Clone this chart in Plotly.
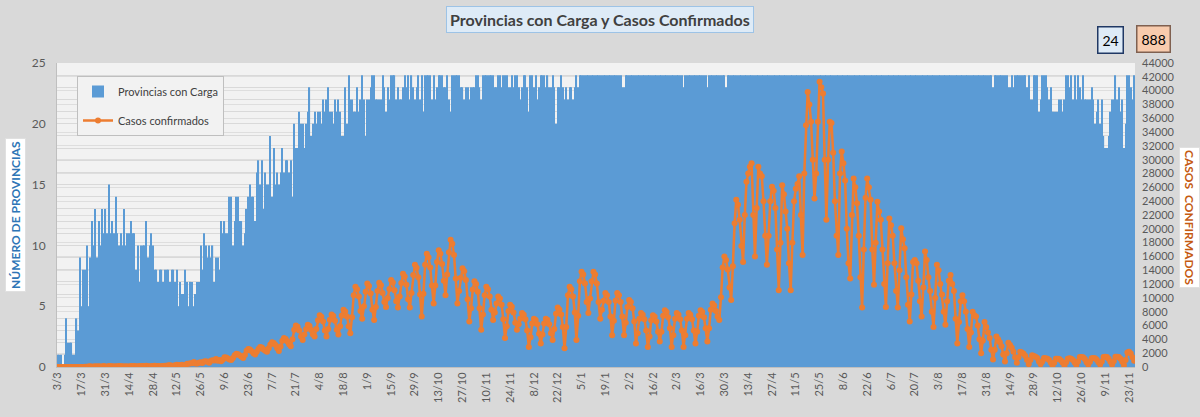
import pandas as pd
import plotly.graph_objects as go

# Datos diarios desde el 3/3/2020 (filas = semanas martes..lunes)
provincias_fase1 = [
    1, 1, 1, 0, 1, 4, 2,
    2, 2, 1, 1, 4, 3, 9,
    5, 8, 8, 10, 5, 9, 12,
    10, 13, 9, 12, 10, 13, 11,
    13, 11, 15, 11, 12, 11, 14,
    11, 10, 11, 10, 13, 10, 11,
    11, 12, 11, 11, 8, 10, 7,
    10, 10, 10, 12, 9, 10, 11,
    10, 8, 8, 7, 8, 8, 7,
    8, 8, 8, 7, 8, 8, 7,
    8, 5, 7, 6, 6, 8, 7,
    5, 7, 7, 5, 6, 7, 7,
    10, 8, 11, 10, 9, 10, 9,
    10, 7, 9, 9, 8, 12, 11,
    12, 11, 11, 14, 14, 10, 12,
    14, 14, 12, 12, 10, 11, 13,
    14, 15, 14, 14, 12, 16, 17,
    15, 17, 13, 16, 15, 15, 19,
    14, 18, 15, 16, 15, 16, 18,
    16, 17, 17, 16, 17, 14, 20,
    18, 18, 21, 20, 20, 18, 20,
    21, 23, 19, 20, 21, 20, 21,
    21, 20, 22, 21, 22, 23, 21,
    21, 20, 22, 21, 22, 21, 19,
    19, 23, 20, 24, 22, 22, 21,
    21, 23, 21, 22, 24, 22, 19,
    22, 22, 23, 24, 24, 22, 22,
    22, 22, 24, 23, 21, 23, 22,
    24, 24, 24, 22, 23, 22, 22,
    23, 24, 23, 24, 22, 24, 23,
]
provincias_fase2 = [
    22, 23, 24, 22, 24, 21, 24,
    24, 24, 24, 22, 24, 22, 23,
    24, 24, 24, 23, 23, 24, 22,
    21, 24, 24, 24, 24, 24, 23,
    23, 22, 23, 23, 22, 23, 23,
    23, 24, 24, 23, 22, 24, 24,
    24, 24, 24, 24, 24, 23, 23,
    24, 24, 23, 24, 24, 24, 23,
    23, 24, 23, 24, 24, 23, 22,
    23, 24, 24, 23, 21, 24, 24,
    23, 24, 22, 23, 24, 24, 24,
    23, 24, 23, 23, 24, 23, 20,
    23, 23, 24, 23, 22, 23, 22,
    23, 23, 22, 23, 24, 23, 24,
    24, 24, 24, 24, 24, 24, 24,
    24, 24, 24, 24, 24, 24, 24,
    24, 24, 24, 24, 24, 24, 24,
    24, 24, 24, 23, 23, 24, 24,
    24, 24, 24, 24, 24, 24, 24,
    24, 24, 24, 24, 24, 24, 24,
    24, 24, 24, 24, 24, 24, 24,
    24, 24, 24, 24, 24, 24, 24,
    24, 24, 24, 24, 23, 24, 24,
    24, 24, 24, 24, 24, 24, 24,
    24, 24, 24, 24, 23, 24, 24,
    24, 24, 24, 24, 24, 24, 24,
    24, 23, 24, 24, 24, 24, 24,
    24, 24, 24, 24, 24, 24, 24,
    24, 24, 24, 24, 24, 24, 24,
    24, 24, 24, 24, 24, 24, 24,
]
provincias_fase3 = [
    24, 24, 24, 24, 24, 24, 24,
    24, 24, 24, 24, 24, 24, 24,
    24, 24, 24, 24, 24, 24, 24,
    24, 24, 24, 24, 24, 24, 24,
    24, 24, 24, 24, 24, 24, 24,
    24, 24, 24, 24, 24, 24, 24,
    24, 24, 24, 24, 24, 24, 24,
    24, 24, 24, 24, 24, 24, 24,
    24, 24, 24, 24, 24, 24, 24,
    24, 24, 24, 24, 24, 24, 24,
    24, 24, 24, 24, 24, 24, 24,
    24, 24, 24, 24, 24, 24, 24,
    24, 24, 24, 24, 24, 24, 24,
    24, 24, 24, 24, 24, 24, 24,
    24, 24, 24, 24, 24, 24, 24,
    24, 24, 24, 24, 24, 24, 24,
    24, 24, 24, 24, 24, 24, 24,
    24, 24, 24, 24, 24, 24, 24,
    24, 24, 24, 24, 23, 24, 24,
    24, 24, 24, 24, 24, 24, 23,
    23, 24, 23, 24, 24, 24, 24,
    24, 24, 24, 23, 24, 22, 22,
    24, 24, 24, 21, 22, 24, 24,
    24, 23, 22, 23, 21, 21, 21,
    21, 22, 22, 21, 22, 24, 24,
    23, 24, 22, 24, 22, 24, 23,
    22, 24, 22, 22, 22, 22, 23,
    22, 20, 21, 22, 20, 22, 19,
    18, 18, 19, 21, 22, 22, 24,
    22, 23, 21, 22, 18, 20, 24,
    24, 23, 22, 24,
]

casos_fase1 = [
    1, 0, 2, 2, 4, 0, 4,
    5, 3, 3, 9, 3, 11, 12,
    14, 18, 31, 30, 67, 97, 41,
    86, 115, 87, 101, 55, 75, 146,
    88, 50, 132, 98, 110, 61, 96,
    76, 145, 97, 112, 81, 121, 80,
    75, 139, 103, 133, 104, 86, 136,
    111, 128, 144, 173, 111, 101, 120,
    143, 164, 104, 143, 98, 101, 145,
    175, 197, 240, 264, 165, 182, 258,
    316, 285, 303, 330, 235, 263, 475,
    460, 551, 560, 720, 503, 519, 606,
    702, 564, 795, 818, 765, 598, 904,
    983, 929, 1141, 904, 1012, 821, 1044,
    1400, 1360, 1230, 1100, 1000, 1300, 1700,
    1900, 1840, 1670, 1500, 1300, 1750, 2350,
    2600, 2520, 2290, 2000, 1800, 2200, 2600,
    2900, 2810, 2550, 2350, 2200, 2700, 3250,
    3600, 3490, 3170, 2700, 2300, 2950, 3800,
    4200, 4070, 3700, 3300, 3000, 4000, 5400,
    6000, 5820, 5280, 4400, 3900, 4700, 5500,
    6100, 5920, 5370, 4700, 4400, 5500, 6750,
    7500, 7280, 6600, 5300, 4400, 5500, 6850,
    7600, 7370, 6690, 5400, 4700, 5900, 7450,
    8300, 8050, 7300, 5900, 4900, 7200, 10400,
    11600, 11250, 10200, 8100, 7000, 8800, 10900,
    12100, 11740, 10650, 8300, 6800, 8700, 11000,
    12200, 11830, 10700, 9400, 8700, 10000, 11300,
    12600, 12220, 11100, 9500, 8600, 10200, 12150,
    13500, 13100, 11900, 9800, 8600, 10700, 13300,
]
casos_fase2 = [
    14800, 14360, 13000, 10500, 7300, 10600, 14800,
    16400, 15900, 14400, 11800, 9200, 11800, 15200,
    16900, 16400, 14900, 12500, 10400, 13400, 16600,
    18400, 17850, 16200, 12800, 9200, 11000, 12900,
    14300, 13870, 12600, 9800, 6600, 8500, 11200,
    12400, 12030, 10900, 8500, 5400, 7600, 10400,
    11600, 11250, 10200, 8300, 6800, 7900, 9200,
    10200, 9900, 9000, 6900, 4200, 5900, 8100,
    9000, 8730, 7900, 6400, 5400, 6200, 7000,
    7800, 7570, 6900, 5300, 2900, 4300, 6300,
    7000, 6790, 6200, 4800, 3400, 4700, 6300,
    7000, 6790, 6200, 4900, 3900, 5500, 7700,
    8600, 8340, 7600, 5800, 2700, 5800, 10400,
    11600, 11250, 10200, 7900, 3900, 7400, 12400,
    13800, 13400, 12100, 9400, 7800, 9900, 12400,
    13800, 13400, 12100, 9400, 7000, 8300, 9600,
    10700, 10380, 9400, 7300, 4600, 6700, 9600,
    10700, 10380, 9400, 7300, 4600, 6400, 8700,
    9700, 9400, 8500, 6600, 3400, 4900, 7000,
    7800, 7570, 6900, 5300, 2900, 4400, 6750,
    7500, 7280, 6600, 5100, 3700, 5100, 7400,
    8200, 7950, 7200, 5600, 2900, 4600, 7000,
    7800, 7570, 6900, 5300, 2900, 4600, 7000,
    7800, 7570, 6900, 5300, 3400, 5100, 7400,
    8200, 7950, 7200, 5600, 3700, 5600, 8300,
    9200, 8900, 8100, 7300, 6800, 10100, 14400,
    16000, 15500, 14100, 11500, 9700, 14600, 20800,
    24200, 23500, 21300, 17500, 15200, 22000, 26800,
    28000, 29000, 29500, 22000, 16000, 23000, 29000,
    28000, 27600, 24000, 19000, 14800, 19000, 24000,
]
casos_fase3 = [
    26100, 25500, 23000, 17000, 11100, 18000, 26300,
    25000, 22500, 20000, 15000, 11100, 18000, 24000,
    25800, 26500, 27600, 22000, 16200, 28000, 35000,
    39800, 38000, 35500, 30000, 24400, 28000, 35500,
    41300, 40500, 39600, 30000, 21300, 30000, 35500,
    35300, 31000, 24000, 19000, 16200, 28000, 31200,
    29500, 27000, 20000, 15000, 12800, 22000, 27300,
    26000, 23700, 19000, 13000, 8600, 17000, 24500,
    27300, 26000, 24200, 17000, 11900, 18000, 23900,
    22500, 21300, 17000, 12000, 8700, 15000, 21500,
    20500, 19000, 15000, 11000, 8600, 14000, 20100,
    18500, 17200, 13000, 9000, 6600, 10500, 15200,
    15500, 15000, 12500, 9500, 7300, 11500, 16700,
    15500, 13000, 11000, 8000, 5800, 10000, 14800,
    14000, 12000, 10500, 8000, 6100, 9500, 12500,
    13300, 12000, 11000, 7000, 3400, 6500, 9500,
    10400, 9500, 8000, 5500, 2900, 5000, 8000,
    7500, 7300, 6000, 4000, 2000, 3800, 6500,
    5800, 5000, 4200, 2500, 1100, 2500, 4400,
    4000, 3600, 3000, 1800, 800, 2000, 3500,
    3200, 2800, 2200, 1400, 600, 1400, 2200,
    2100, 1900, 1600, 1000, 400, 1000, 1700,
    1600, 1500, 1300, 800, 400, 800, 1300,
    1250, 1200, 1000, 600, 200, 600, 1200,
    1200, 1150, 950, 600, 250, 700, 1200,
    1250, 1200, 1000, 650, 300, 800, 1450,
    1450, 1400, 1150, 700, 350, 750, 1250,
    1300, 1250, 1050, 700, 350, 800, 1450,
    1500, 1450, 1200, 750, 350, 850, 1500,
    1500, 1450, 1200, 750, 300, 1000, 2100,
    2200, 1950, 1400, 888,
]

provincias = provincias_fase1 + provincias_fase2 + provincias_fase3
casos = casos_fase1 + casos_fase2 + casos_fase3
fechas = pd.date_range("2020-03-03", periods=len(casos), freq="D")

# posicion del area de grafico en pixeles (ventana 1200x417)
L, R, T, B = 57, 1135, 63, 367


def px(x):
    return (x - L) / (R - L)


def py(y):
    return (B - y) / (B - T)


fig = go.Figure()

fig.add_trace(go.Bar(x=fechas, y=provincias, name="Provincias con Carga",
                     marker=dict(color="#5b9bd5", line=dict(width=0)),
                     legendgroup="a"))
fig.add_trace(go.Scatter(x=fechas, y=casos, name="Casos confirmados", yaxis="y2",
                         mode="lines+markers",
                         line=dict(color="#ed7d31", width=2.5),
                         marker=dict(color="#ed7d31", size=6),
                         legendgroup="b"))

fuente = "Lato, Open Sans, sans-serif"
gris = "#595959"

fig.update_layout(
    width=1200, height=417,
    margin=dict(l=L, r=1200 - R, t=T, b=417 - B),
    paper_bgcolor="#d9d9d9",
    plot_bgcolor="#f2f2f2",
    font=dict(family=fuente, size=11, color=gris),
    bargap=0.3,
    showlegend=True,
    legend=dict(x=px(77), y=py(76), xanchor="left", yanchor="top",
                bgcolor="#f2f2f2", bordercolor="#bfbfbf", borderwidth=1,
                font=dict(size=11, color="#404040"),
                traceorder="grouped", tracegroupgap=10),
    xaxis=dict(
        type="date",
        range=[fechas[0] - pd.Timedelta(hours=12), fechas[-1] + pd.Timedelta(hours=12)],
        tick0=fechas[0], dtick=14 * 86400000, tickformat="%-d/%-m",
        tickangle=-90, tickfont=dict(size=11, color=gris),
        showgrid=False, showline=True, linecolor="#bfbfbf",
    ),
    yaxis=dict(
        range=[0, 25], dtick=5, tickfont=dict(size=12, color=gris),
        showgrid=True, gridcolor="#d9d9d9", zeroline=False,
        minor=dict(dtick=1, showgrid=True, gridcolor="#d9d9d9"),
        showline=True, linecolor="#bfbfbf", ticklabelstandoff=8,
    ),
    yaxis2=dict(
        range=[0, 44000], dtick=2000, tickformat="d", overlaying="y", side="right",
        tickfont=dict(size=11, color=gris),
        showgrid=True, gridcolor="#dedede", zeroline=False,
        ticklabelstandoff=6,
    ),
)


def recuadro(texto, x, y, tam, color, fondo, borde, ancho=1, angulo=0, pad=3):
    fig.add_annotation(text=texto, xref="paper", yref="paper", x=px(x), y=py(y),
                       xanchor="center", yanchor="middle", showarrow=False,
                       textangle=angulo, font=dict(size=tam, color=color, family=fuente),
                       bgcolor=fondo, bordercolor=borde, borderwidth=ancho, borderpad=pad)


# titulo en recuadro
recuadro("<b>Provincias con Carga y Casos Confirmados</b>", 600, 20, 16,
         "#404040", "#deebf7", "#9dc3e6", pad=3)

# ultimos valores
recuadro(str(provincias[-1]), 1110, 40, 14, "#000000", "#deebf7", "#203864", 1.5, pad=4)
recuadro(str(casos[-1]), 1153, 39, 14, "#000000", "#f8cbad", "#7f6050", 1.5, pad=4)

# titulos de los ejes
recuadro("<b>NÚMERO DE PROVINCIAS</b>", 15, 215, 12, "#2e75b6", "#ffffff", "#e0e0e0",
         angulo=-90, pad=2)
recuadro("<b>CASOS  CONFIRMADOS</b>", 1190, 217, 12, "#c55a11", "#ffffff", "#e0e0e0",
         angulo=90, pad=2)

# sin margen del body para que la figura ocupe la ventana exacta
fig.write_html("out.html", config={"displayModeBar": False},
               post_script="document.body.style.margin='0';")
